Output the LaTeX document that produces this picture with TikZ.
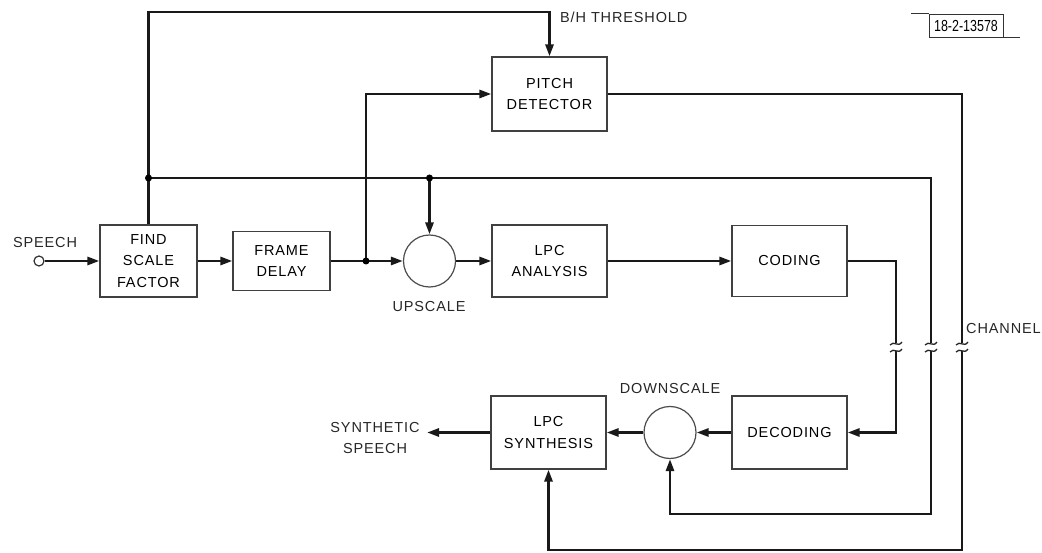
\documentclass[tikz,border=0pt]{standalone}
\usepackage{fontspec}
\newfontfamily\lblfont{Liberation Sans}[LetterSpace=6]
\newfontfamily\tagfam{Liberation Sans}
\newcommand\lbl{\lblfont\fontsize{14.5}{21.5}\selectfont}
\newcommand\tagtxt{\tagfam\fontsize{16}{16}\selectfont}
\usetikzlibrary{arrows.meta}
\begin{document}
\begin{tikzpicture}[x=1pt,y=-1pt,
  box/.style={draw=black!75, line width=1.2pt, inner sep=0pt, align=center,
              minimum width=115pt, minimum height=72pt, font=\lbl},
  mult/.style={draw=black!70, circle, line width=1.2pt, inner sep=0pt, minimum size=52pt},
  conn/.style={line width=2.7pt, draw=black!90},
  arr/.style={conn, -{Triangle[length=12pt,width=8pt]}},
  lab/.style={font=\lbl, inner sep=0pt, align=center, text=black!85},
  junc/.style={fill=black, circle, inner sep=0pt, minimum size=7pt},
  brkmark/.style={line width=1.3pt, draw=black!85}
]
\useasboundingbox (0,0) rectangle (1042,553);

% blocks
\node[box, minimum width=97pt] (fsf) at (148.5,261) {FIND\\SCALE\\FACTOR};
\node[box, minimum width=97pt, minimum height=59pt] (fd) at (281.5,261) {FRAME\\DELAY};
\node[box, minimum height=74pt] (pd) at (549.5,94) {PITCH\\DETECTOR};
\node[mult] (up) at (429.5,261) {};
\node[box] (lpa) at (549.5,261) {LPC\\ANALYSIS};
\node[box, minimum height=71pt] (cod) at (789.5,261) {CODING};
\node[box, minimum height=73pt] (dec) at (789.5,432.5) {DECODING};
\node[mult] (dn) at (670,432.5) {};
\node[box, minimum height=73pt] (lps) at (548.5,432.5) {LPC\\SYNTHESIS};

% input terminal
\node[draw=black!80, circle, line width=1.2pt, inner sep=0pt, minimum size=10pt] (sp) at (39,261) {};

% labels
\node[lab] (tsp) at (45,243) {SPEECH};
\node[lab] (tup) at (429,307) {UPSCALE};
\node[lab] (tdn) at (670,389) {DOWNSCALE};
\node[lab, anchor=west] (tbh) at (560,17) {B/H THRESHOLD};
\node[lab, anchor=west] (tch) at (966,329) {CHANNEL};
\node[lab] (tss) at (375,438) {SYNTHETIC\\SPEECH};

% drawing tag
\node[draw=black!80, line width=0.8pt, inner xsep=2pt, minimum height=23pt, minimum width=74pt]
  (tag) at (966,25.5) {\tagtxt\scalebox{0.78}[1]{18-2-13578}};
\draw[line width=0.8pt, black!80] (tag.north west) -- ++(-18,0);
\draw[line width=0.8pt, black!80] (tag.south east) -- ++(17,0);

% coordinates
\coordinate (j1) at (148.5,178);
\coordinate (j2) at (429.5,178);
\coordinate (j3) at (366,261);
\coordinate (b1t) at (896,343);
\coordinate (b1b) at (896,351);
\coordinate (b2t) at (931,343);
\coordinate (b2b) at (931,351);
\coordinate (b3t) at (962,343);
\coordinate (b3b) at (962,351);
\coordinate (l2) at (931,514);
\coordinate (l3) at (962,550);
\coordinate (top) at (148.5,12);
\coordinate (out) at (427,432.5);

% forward path
\draw[arr] (sp) -- (fsf.west);
\draw[arr] (fsf.east) -- (fd.west);
\draw[arr] (fd.east) -- (up.west);
\draw[arr] (j3) |- (pd.west);
\draw[arr] (up.east) -- (lpa.west);
\draw[arr] (lpa.east) -- (cod.west);
\draw[conn] (cod.east) -| (b1t);
\draw[arr] (b1b) |- (dec.east);
\draw[arr] (dec.west) -- (dn.east);
\draw[arr] (dn.west) -- (lps.east);
\draw[arr] (lps.west) -- (out);

% scale factor paths
\draw[arr] (fsf.north) -- (top) -| (pd.north);
\draw[conn] (j1) -| (b2t);
\draw[arr] (j2) -- (up.north);
\draw[arr] (b2b) -- (l2) -| (dn.south);

% pitch path
\draw[conn] (pd.east) -| (b3t);
\draw[arr] (b3b) -- (l3) -| (lps.south);

% junction dots
\node[junc] at (j1) {};
\node[junc] at (j2) {};
\node[junc] at (j3) {};

% channel break marks
\foreach \bx in {896,931,962}{
  \draw[brkmark] (\bx-6,345) .. controls (\bx-2,340) and (\bx+2,348) .. (\bx+6,342);
  \draw[brkmark] (\bx-6,352) .. controls (\bx-2,347) and (\bx+2,355) .. (\bx+6,349);
}
\end{tikzpicture}
\end{document}
